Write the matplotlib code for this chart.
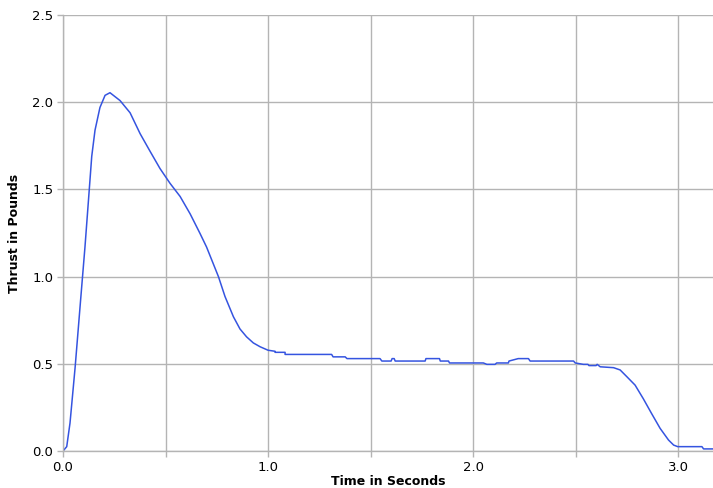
#!/usr/bin/env python3
"""Rocket motor thrust curve, thrust in pounds against time in seconds."""

import matplotlib
matplotlib.use("Agg")
import matplotlib.pyplot as plt
from matplotlib.ticker import FuncFormatter, MultipleLocator

# values
time_s = [
    0.0, 0.018, 0.034, 0.059, 0.086, 0.107, 0.128, 0.14, 0.156, 0.18,
    0.205, 0.229, 0.278, 0.327, 0.376, 0.424, 0.473, 0.522, 0.571, 0.62,
    0.668, 0.70, 0.758, 0.79, 0.831, 0.863, 0.895, 0.928, 0.961, 1.0,
    1.034, 1.034, 1.083, 1.083, 1.31, 1.317, 1.376, 1.385, 1.49, 1.546,
    1.555, 1.60, 1.605, 1.615, 1.62, 1.766, 1.77, 1.836, 1.84, 1.88,
    1.885, 2.05, 2.067, 2.107, 2.115, 2.172, 2.175, 2.22, 2.27, 2.278,
    2.49, 2.498, 2.538, 2.56, 2.565, 2.60, 2.605, 2.62, 2.685, 2.717,
    2.75, 2.79, 2.83, 2.87, 2.912, 2.953, 2.978, 2.998, 3.116, 3.124,
    3.17,
]
thrust_lb = [
    0.0, 0.025, 0.16, 0.48, 0.87, 1.17, 1.50, 1.69, 1.84, 1.97,
    2.04, 2.055, 2.01, 1.94, 1.82, 1.72, 1.62, 1.535, 1.46, 1.36,
    1.248, 1.17, 1.0, 0.886, 0.77, 0.70, 0.655, 0.62, 0.598, 0.578,
    0.572, 0.566, 0.566, 0.554, 0.554, 0.54, 0.54, 0.53, 0.53, 0.53,
    0.516, 0.516, 0.53, 0.53, 0.516, 0.516, 0.53, 0.53, 0.516, 0.516,
    0.505, 0.505, 0.497, 0.497, 0.505, 0.505, 0.516, 0.53, 0.53, 0.516,
    0.516, 0.505, 0.497, 0.497, 0.49, 0.49, 0.497, 0.483, 0.478, 0.465,
    0.426, 0.378, 0.30, 0.216, 0.13, 0.063, 0.034, 0.025, 0.025, 0.012,
    0.012,
]

x_labels = {0.0: "0.0", 1.0: "1.0", 2.0: "2.0", 3.0: "3.0"}

GRID = "#b4b4b4"

fig = plt.figure(figsize=(7.13, 4.88), dpi=100)
ax = fig.add_axes([0.0884, 0.0758, 0.9116, 0.8932])

ax.plot(time_s, thrust_lb, color="#3554e0", linewidth=1.1)

ax.set_xlim(0, 3.17)
ax.set_ylim(0, 2.5)
ax.xaxis.set_major_locator(MultipleLocator(0.5))
ax.yaxis.set_major_locator(MultipleLocator(0.5))
ax.xaxis.set_major_formatter(
    FuncFormatter(lambda v, pos: x_labels.get(round(v, 2), ""))
)
ax.yaxis.set_major_formatter(FuncFormatter(lambda v, pos: f"{v:.1f}"))

ax.grid(True, color=GRID, linewidth=1.0)
ax.set_axisbelow(True)
for side in ("top", "right"):
    ax.spines[side].set_visible(False)
for side in ("left", "bottom"):
    ax.spines[side].set_color(GRID)
    ax.spines[side].set_linewidth(1.0)
ax.tick_params(direction="out", length=4, width=1, color=GRID,
               labelsize=9.5, pad=3)

ax.set_xlabel("Time in Seconds", fontsize=9, fontweight="bold", labelpad=1)
ax.set_ylabel("Thrust in Pounds", fontsize=9, fontweight="bold", labelpad=8)

fig.savefig("out.png", dpi=100)
